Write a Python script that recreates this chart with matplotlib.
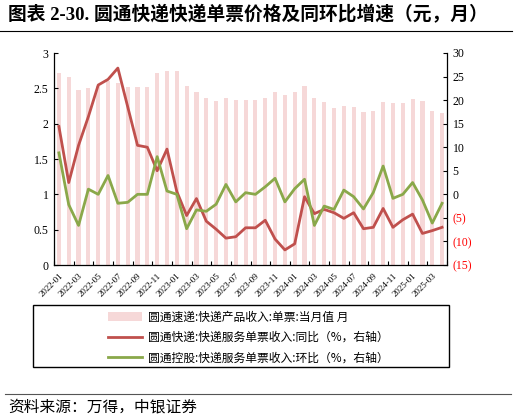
import matplotlib
matplotlib.use("Agg")
import matplotlib.pyplot as plt
from matplotlib.patches import Rectangle, Patch
from matplotlib.lines import Line2D
import numpy as np

plt.rcParams['font.family'] = ['Liberation Serif', 'Noto Sans CJK SC', 'DejaVu Sans']

months = ["2022-01", "2022-02", "2022-03", "2022-04", "2022-05", "2022-06", "2022-07", "2022-08",
          "2022-09", "2022-10", "2022-11", "2022-12", "2023-01", "2023-02", "2023-03", "2023-04",
          "2023-05", "2023-06", "2023-07", "2023-08", "2023-09", "2023-10", "2023-11", "2023-12",
          "2024-01", "2024-02", "2024-03", "2024-04", "2024-05", "2024-06", "2024-07", "2024-08",
          "2024-09", "2024-10", "2024-11", "2024-12", "2025-01", "2025-02", "2025-03", "2025-04"]

price = [2.72, 2.66, 2.48, 2.51, 2.53, 2.60, 2.57, 2.52, 2.52, 2.52, 2.72, 2.74, 2.74, 2.53,
         2.45, 2.37, 2.32, 2.37, 2.335, 2.335, 2.335, 2.37, 2.45, 2.41, 2.45, 2.53, 2.36, 2.31,
         2.22, 2.25, 2.24, 2.17, 2.18, 2.31, 2.29, 2.29, 2.35, 2.32, 2.18, 2.15]

yoy = [14.4, 2.5, 10.4, 16.5, 23.2, 24.4, 26.8, 18.6, 10.4, 10.0, 5.0, 9.6, 0.6, -4.5,
       -0.9, -5.7, -7.4, -9.3, -9.0, -7.1, -7.1, -5.5, -9.5, -11.8, -10.5, -0.5, -4.1, -3.2,
       -3.9, -5.1, -3.9, -7.3, -7.0, -3.0, -7.0, -5.4, -4.2, -8.3, -7.7, -7.0]

mom = [8.8, -2.2, -6.6, 1.1, 0.0, 4.0, -1.9, -1.7, 0.0, 0.0, 8.0, 0.7, 0.0, -7.3,
       -3.3, -3.6, -2.1, 2.1, -1.6, 0.35, 0.0, 1.6, 3.4, -1.6, 1.2, 3.2, -6.6, -2.5,
       -3.2, 0.9, -0.5, -3.1, 0.4, 6.0, -0.85, 0.0, 2.5, -1.2, -6.1, -1.9]

left_ticks = [0, 0.5, 1, 1.5, 2, 2.5, 3]
left_labels = ["0", "0.5", "1", "1.5", "2", "2.5", "3"]
right_ticks = [-15, -10, -5, 0, 5, 10, 15, 20, 25, 30]
right_labels = ["(15)", "(10)", "(5)", "0", "5", "10", "15", "20", "25", "30"]

title = "图表 2-30. 圆通快递快递单票价格及同环比增速（元，月）"
legend_labels = ["圆通速递:快递产品收入:单票:当月值 月",
                 "圆通快递:快递服务单票收入:同比（%，右轴）",
                 "圆通控股:快递服务单票收入:环比（%，右轴）"]
source = "资料来源：万得，中银证券"

bar_color = "#f6d8d8"
red = "#c0504d"
green = "#8aa84a"

fig = plt.figure(figsize=(5.16, 4.2), dpi=100)
ax = fig.add_axes([54/516, 1-265/420, (447-54)/516, (265-53)/420])
ax2 = ax.twinx()

x = np.arange(len(months))
ax.bar(x, price, width=0.42, color=bar_color, zorder=1)
ax.set_ylim(0, 3)
ax.set_xlim(-0.5, len(months)-0.5)
ax.set_yticks(left_ticks)
ax.set_yticklabels(left_labels, fontsize=8.5)

ax2.plot(x, yoy, color=red, lw=2.0, zorder=3)
ax2.plot(x, mom, color=green, lw=2.0, zorder=4)
ax2.set_ylim(-15, 30)
ax2.set_yticks(right_ticks)
ax2.set_yticklabels(right_labels, fontsize=8.5)
for t, v in zip(ax2.get_yticklabels(), right_ticks):
    if v < 0:
        t.set_color("#ff0000")

# x ticks: labels every 2 months at category centres, tick marks at boundaries
ax.set_xticks(x[::2])
ax.set_xticklabels(months[::2], rotation=45, ha='right', va='top',
                   rotation_mode='anchor', fontsize=6.5)
ax.tick_params(axis='x', which='major', length=0, pad=5)
ax.set_xticks(np.arange(-0.5, len(months), 2), minor=True)
ax.tick_params(axis='x', which='minor', direction='in', length=3, width=0.8)
ax.tick_params(axis='y', direction='in', length=3, width=0.8, pad=4)
ax2.tick_params(axis='y', direction='in', length=3, width=0.8, pad=4)

for a in (ax, ax2):
    a.spines['top'].set_visible(False)
    for s in ('left', 'right', 'bottom'):
        a.spines[s].set_linewidth(0.9)
ax.spines['right'].set_visible(False)
ax2.spines['left'].set_visible(False)
ax2.spines['bottom'].set_visible(False)

# title and rules
fig.text(8/516, 1-15/420, title, fontsize=13.5, fontweight='bold', va='center', ha='left')
fig.add_artist(Line2D([0, 512/516], [1-31/420, 1-31/420], color='black', lw=0.8))
fig.add_artist(Line2D([5/516, 511/516], [1-394/420, 1-394/420], color='#555555', lw=0.8))
fig.text(8/516, 1-407/420, source, fontsize=11.3, va='center', ha='left',
         family=['Noto Sans CJK SC'], style='italic')

# legend box
fig.add_artist(Rectangle((33/516, 1-367/420), (449-33)/516, (367-305)/420,
                         transform=fig.transFigure, fill=False, edgecolor='black', lw=1.0))
handles = [Patch(facecolor=bar_color, edgecolor='none'),
           Line2D([], [], color=red, lw=2.0),
           Line2D([], [], color=green, lw=2.0)]
fig.legend(handles, legend_labels, loc='upper left', bbox_to_anchor=(97/516, 1-300/420),
           frameon=False, handlelength=2.9, handletextpad=0.5,
           labelspacing=0.62, prop={'family': ['Noto Sans CJK SC'], 'size': 8.5})

fig.savefig("out.png", dpi=100)
